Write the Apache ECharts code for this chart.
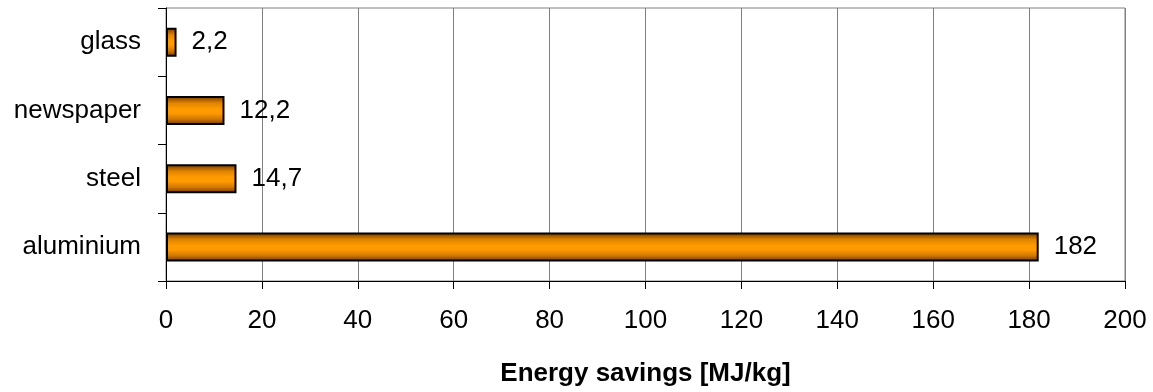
<!DOCTYPE html>
<html>
<head>
<meta charset="utf-8">
<script src="https://cdn.jsdelivr.net/npm/echarts@6/dist/echarts.min.js"></script>
<style>
html,body{margin:0;padding:0;background:#fff;}
#chart{width:1153px;height:392px;}
</style>
</head>
<body>
<div id="chart"></div>
<script>
// Materials, listed from the bottom of the axis upward
const categories = ['aluminium', 'steel', 'newspaper', 'glass'];
const savings = [182, 14.7, 12.2, 2.2];
const xTicks = [0, 20, 40, 60, 80, 100, 120, 140, 160, 180, 200];
const axisTitle = 'Energy savings [MJ/kg]';

const font = 'Arial, "Liberation Sans", sans-serif';
const chart = echarts.init(document.getElementById('chart'));

chart.setOption({
  animation: false,
  backgroundColor: '#ffffff',
  grid: { left: 166, right: 28, top: 8, bottom: 107, show: true, borderColor: '#808080', borderWidth: 1 },
  xAxis: {
    type: 'value',
    min: xTicks[0],
    max: xTicks[xTicks.length - 1],
    interval: 20,
    name: axisTitle,
    nameLocation: 'middle',
    nameGap: 80,
    nameTextStyle: { fontFamily: font, fontSize: 26, fontWeight: 'bold', color: '#000' },
    axisLine: { show: true, lineStyle: { color: '#000', width: 1 } },
    axisTick: { show: true, length: 8, lineStyle: { color: '#000' } },
    axisLabel: { fontFamily: font, fontSize: 26, color: '#000', margin: 27 },
    splitLine: { show: true, lineStyle: { color: '#808080', width: 1 } }
  },
  yAxis: {
    type: 'category',
    data: categories,
    axisLine: { show: true, lineStyle: { color: '#000', width: 1 } },
    axisTick: { show: true, length: 8, lineStyle: { color: '#000' } },
    axisLabel: { fontFamily: font, fontSize: 26, color: '#000', margin: 25 },
    splitLine: { show: false }
  },
  series: [{
    type: 'bar',
    data: savings,
    barWidth: 29,
    itemStyle: {
      color: new echarts.graphic.LinearGradient(0, 0, 0, 1, [
        { offset: 0, color: '#6e3600' },
        { offset: 0.25, color: '#e08400' },
        { offset: 0.45, color: '#ff9a00' },
        { offset: 0.6, color: '#ff9a00' },
        { offset: 0.8, color: '#d07800' },
        { offset: 1, color: '#6e3600' }
      ]),
      borderColor: '#000',
      borderWidth: 2
    },
    label: {
      show: true,
      position: 'right',
      distance: 15,
      fontFamily: font,
      fontSize: 26,
      color: '#000',
      formatter: p => String(p.value).replace('.', ',')
    }
  }]
});
</script>
</body>
</html>
